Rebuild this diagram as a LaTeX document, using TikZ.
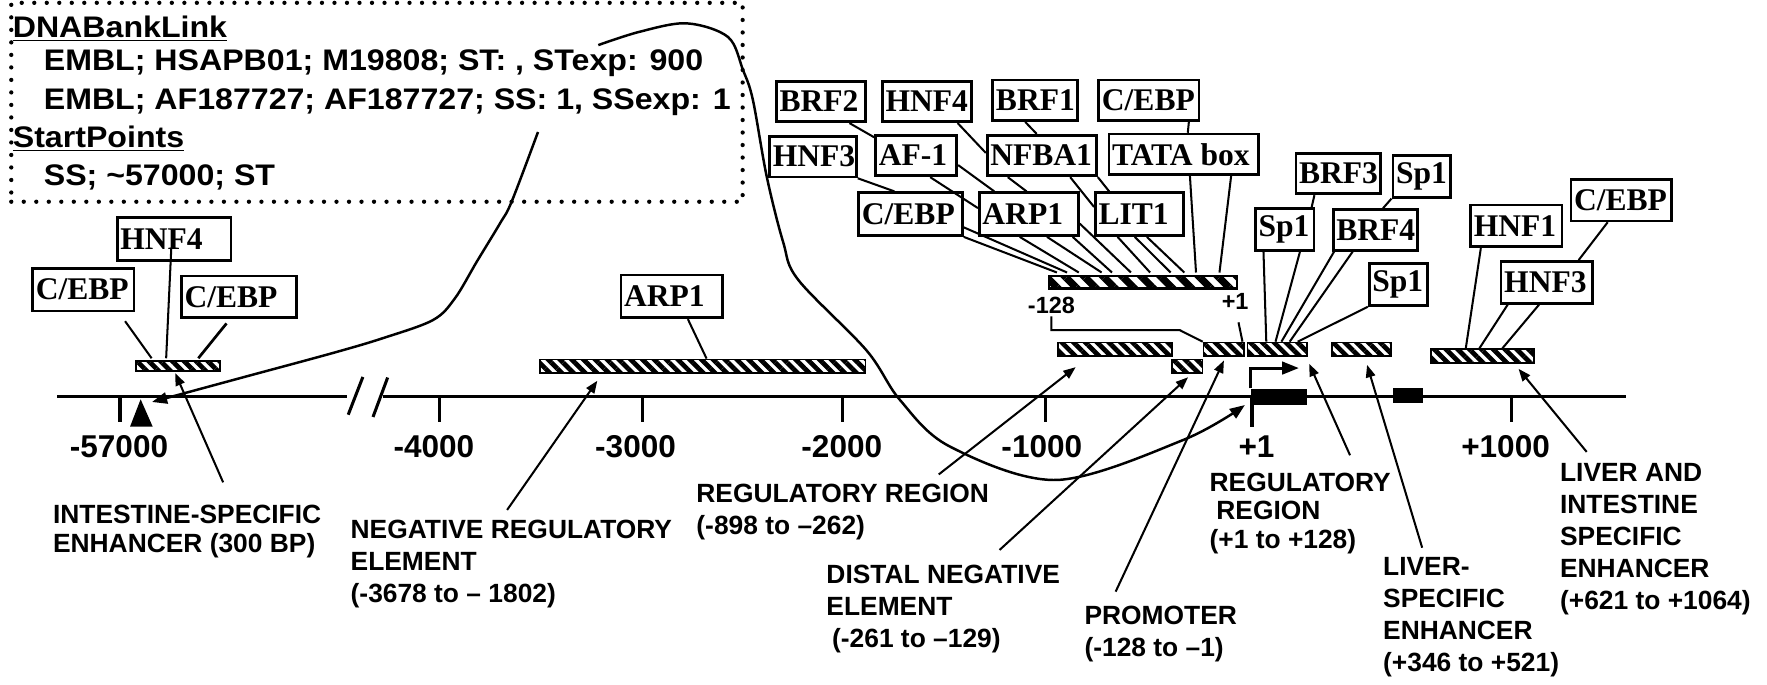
\documentclass[tikz,border=0pt]{standalone}
\usepackage{fontspec}
\setmainfont{Liberation Sans}
\newfontfamily\serifb{Liberation Serif}
\newfontfamily\boxfont{Liberation Sans Bold}[FakeStretch=1.08]
\usetikzlibrary{arrows.meta,patterns.meta,calc}
\newcommand\tfnode[6]{\node[tf, minimum height=#5*0.5pt] (#1) at (#2,#3) {\makebox[\dimexpr#4pt/2\relax][l]{\hspace{1.4pt}#6}};}
\begin{document}
\begin{tikzpicture}[x=0.5pt,y=-0.5pt,
  tf/.style={draw, line width=1.2pt, inner sep=0pt, font=\serifb\bfseries\fontsize{14}{15}\selectfont},
  hbar/.style={draw, line width=0.8pt, inner sep=0pt, pattern={Lines[angle=-45,distance=3.7pt,line width=2.1pt]}},
  pbarst/.style={draw, line width=0.9pt, inner sep=0pt, pattern={Lines[angle=-45,distance=6pt,line width=3.2pt]}},
  exon/.style={fill=black, inner sep=0pt},
  dotbox/.style={draw, line width=1.9pt, dash pattern=on 0pt off 5.55pt, line cap=round, inner sep=0pt},
  boxtxt/.style={font=\boxfont\fontsize{13.2}{16}\selectfont, inner sep=0pt, anchor=north west},
  ticklbl/.style={font=\bfseries\fontsize{14}{16}\selectfont, inner sep=0pt},
  smalllbl/.style={font=\bfseries\fontsize{10.4}{12}\selectfont, inner sep=0pt},
  region/.style={font=\bfseries\fontsize{11.7}{14.2}\selectfont, inner sep=0pt, anchor=north west, align=left},
  regiontight/.style={region, font=\bfseries\fontsize{11.7}{12.8}\selectfont},
  axisline/.style={line width=1.35pt},
  tickmark/.style={line width=1.35pt},
  conn/.style={line width=0.9pt},
  arr/.style={line width=0.9pt, -{Triangle[length=5.5pt,width=4.2pt]}},
  curv/.style={line width=1.1pt, -{Triangle[length=6.7pt,width=5pt]}},
  tssarrow/.style={line width=1.3pt, -{Triangle[length=7.4pt,width=5.5pt]}}
]
\useasboundingbox (0,0) rectangle (1568,607);

% ---------- info box ----------
\node[dotbox, minimum width=649*0.5pt, minimum height=176.5*0.5pt] (info) at (334.5,90.75) {};
\node[boxtxt] (dbl) at (11,13.3) {\underline{DNABankLink}};
\node[boxtxt] (emblA) at (38.5,44) {EMBL; HSAPB01; M19808; ST: , STexp: 900};
\node[boxtxt] (emblB) at (38.5,78) {EMBL; AF187727; AF187727; SS: 1, SSexp: 1};
\node[boxtxt] (spts) at (11,111) {\underline{StartPoints}};
\node[boxtxt] (ssln) at (38.5,146) {SS; \textasciitilde57000; ST};

% ---------- axis ----------
\coordinate (axL) at (50.6,352);
\coordinate (brkL) at (308,352);
\coordinate (brkR) at (340,352);
\coordinate (axR) at (1443,352);
\draw[axisline] (axL) -- (brkL);
\draw[axisline] (brkR) -- (axR);
\draw[axisline] (309,368) -- (322,334.5);
\draw[axisline] (331,370) -- (344,335);
\foreach \tx in {106.5,390.4,570.5,748,928,1341} \draw[tickmark] (\tx,352) -- (\tx,374.5);
\draw[tickmark] (1111,352) -- (1111,379);
\fill (124.8,354.3) -- (115.4,378.6) -- (135.5,378.6) -- cycle;

\node[ticklbl] (t57) at (105.6,396.5) {-57000};
\node[ticklbl] (t4k) at (385,396.5) {-4000};
\node[ticklbl] (t3k) at (564,396.5) {-3000};
\node[ticklbl] (t2k) at (747,396.5) {-2000};
\node[ticklbl] (t1k) at (924.5,396.5) {-1000};
\node[ticklbl] (tp1) at (1115,396.5) {+1};
\node[ticklbl] (tp1k) at (1336,396.5) {+1000};

% ---------- bars ----------
\node[hbar, minimum width=74*0.5pt, minimum height=9*0.5pt] (ibar) at (158,324.5) {};
\node[hbar, minimum width=289*0.5pt, minimum height=12*0.5pt] (arpbar) at (623.5,325) {};
\node[hbar, minimum width=101*0.5pt, minimum height=12*0.5pt] (regbar) at (989.5,310) {};
\node[hbar, minimum width=27*0.5pt, minimum height=12*0.5pt] (distbar) at (1053.5,325) {};
\node[hbar, minimum width=36*0.5pt, minimum height=12*0.5pt] (probar) at (1086,310) {};
\node[hbar, minimum width=53*0.5pt, minimum height=12*0.5pt] (reg1bar) at (1133.5,310) {};
\node[hbar, minimum width=52*0.5pt, minimum height=12*0.5pt] (livbar) at (1208,310) {};
\node[hbar, minimum width=91*0.5pt, minimum height=12*0.5pt] (libar) at (1315.5,316) {};
\node[pbarst, minimum width=167*0.5pt, minimum height=11*0.5pt] (pbar) at (1014.5,250.5) {};

\node[exon, minimum width=50*0.5pt, minimum height=14*0.5pt] (exOne) at (1135,352) {};
\node[exon, minimum width=27*0.5pt, minimum height=14*0.5pt] (exTwo) at (1249.5,351) {};
\draw[tssarrow] (exOne.north west) -- ++(0,-18) -- ++(43,0);

\node[smalllbl] (m128) at (933,271) {-128};
\node[smalllbl] (p1) at (1096,267.4) {+1};
\draw[conn] ([yshift=-1pt]m128.south) |- (1047,293) -- (probar.north west);
\coordinate (p1foot) at (1099,286);
\draw[conn] (p1foot) -- ($(probar.north west)!0.94!(probar.north east)$);

% ---------- factor boxes ----------
\tfnode{hnf4L}{154.5}{212}{101}{38}{HNF4}
\tfnode{cebpLa}{74}{257}{90}{38}{C/EBP}
\tfnode{cebpLb}{212}{263.5}{102}{37}{C/EBP}
\tfnode{arpB}{596}{263}{90}{38}{ARP1}

\tfnode{brf2}{728.5}{90}{79}{36}{BRF2}
\tfnode{hnf4M}{822.5}{90}{79}{36}{HNF4}
\tfnode{brf1}{918.5}{89}{75}{36}{BRF1}
\tfnode{cebpT}{1019.5}{89}{89}{36}{C/EBP}
\tfnode{hnf3M}{721.5}{139}{77}{36}{HNF3}
\tfnode{af1}{813}{138}{72}{36}{AF-1}
\tfnode{nfba1}{924.5}{138}{97}{36}{NFBA1}
\tfnode{tata}{1050.5}{137}{133}{36}{TATA box}
\tfnode{cebpM}{808}{190}{92}{38}{C/EBP}
\tfnode{arpM}{913}{190}{88}{38}{ARP1}
\tfnode{lit1}{1011}{190}{78}{38}{LIT1}

\tfnode{brf3}{1187.5}{154}{75}{36}{BRF3}
\tfnode{sp1T}{1261.5}{156.5}{51}{37}{Sp1}
\tfnode{sp1L}{1140}{203.5}{52}{37}{Sp1}
\tfnode{brf4}{1220.5}{204}{75}{36}{BRF4}
\tfnode{sp1B}{1241}{252.5}{52}{37}{Sp1}
\tfnode{hnf1}{1345.5}{200.5}{81}{37}{HNF1}
\tfnode{cebpR}{1438.5}{177.5}{89}{37}{C/EBP}
\tfnode{hnf3R}{1372.5}{250.5}{81}{37}{HNF3}

% ---------- factor connectors ----------
\coordinate (cLone) at (111,285);
\draw[conn] (cLone) -- ($(ibar.north west)!0.2!(ibar.north east)$);
\coordinate (hFourIn) at (152,220);
\draw[conn] (hFourIn) -- ($(ibar.north west)!0.365!(ibar.north east)$);
\coordinate (cLtwo) at (201,287);
\draw[conn, line width=1.2pt] (cLtwo) -- ($(ibar.north west)!0.73!(ibar.north east)$);
\draw[conn] ($(arpB.south west)!0.656!(arpB.south east)$) -- ($(arpbar.north west)!0.512!(arpbar.north east)$);

\draw[conn] ($(brf2.south west)!0.81!(brf2.south east)$) -- ($(af1.north west)!0.08!(af1.south west)$);
\draw[conn] ($(hnf4M.south west)!0.835!(hnf4M.south east)$) -- ($(nfba1.north west)!0.44!(nfba1.south west)$);
\draw[conn] ($(brf1.south west)!0.387!(brf1.south east)$) -- ($(nfba1.north west)!0.454!(nfba1.north east)$);
\draw[conn] ($(cebpT.south west)!0.888!(cebpT.south east)$) -- ($(tata.north west)!0.526!(tata.north east)$);
\draw[conn] (hnf3M.south east) -- ($(cebpM.north west)!0.348!(cebpM.north east)$);
\draw[conn] ($(af1.south west)!0.667!(af1.south east)$) -- ($(arpM.north west)!0.368!(arpM.south west)$);
\draw[conn] ($(af1.north east)!0.72!(af1.south east)$) -- ($(arpM.north west)!0.16!(arpM.north east)$);
\draw[conn] ($(nfba1.south west)!0.196!(nfba1.south east)$) -- ($(arpM.north west)!0.477!(arpM.north east)$);
\draw[conn] ($(nfba1.south west)!0.753!(nfba1.south east)$) -- ($(lit1.north west)!0.342!(lit1.south west)$);
\draw[conn] (nfba1.south east) -- ($(lit1.north west)!0.167!(lit1.north east)$);

\draw[conn] ($(cebpM.north east)!0.79!(cebpM.south east)$) -- ($(pbar.north west)!0.11!(pbar.north east)$);
\draw[conn] (cebpM.south east) -- ($(pbar.north west)!0.058!(pbar.north east)$);
\draw[conn] ($(arpM.south west)!0.41!(arpM.south east)$) -- ($(pbar.north west)!0.17!(pbar.north east)$);
\draw[conn] ($(arpM.south west)!0.678!(arpM.south east)$) -- ($(pbar.north west)!0.287!(pbar.north east)$);
\draw[conn] ($(arpM.south west)!0.93!(arpM.south east)$) -- ($(pbar.north west)!0.34!(pbar.north east)$);
\draw[conn] ($(arpM.north east)!0.71!(arpM.south east)$) -- ($(pbar.north west)!0.437!(pbar.north east)$);
\draw[conn] ($(lit1.south west)!0.26!(lit1.south east)$) -- ($(pbar.north west)!0.535!(pbar.north east)$);
\draw[conn] ($(lit1.south west)!0.45!(lit1.south east)$) -- ($(pbar.north west)!0.64!(pbar.north east)$);
\draw[conn] ($(lit1.south west)!0.583!(lit1.south east)$) -- ($(pbar.north west)!0.71!(pbar.north east)$);
\draw[conn] ($(tata.south west)!0.54!(tata.south east)$) -- ($(pbar.north west)!0.77!(pbar.north east)$);
\draw[conn] ($(tata.south west)!0.81!(tata.south east)$) -- ($(pbar.north west)!0.89!(pbar.north east)$);

\draw[conn] ($(brf3.south west)!0.227!(brf3.south east)$) -- ($(sp1L.north west)!0.94!(sp1L.north east)$);
\draw[conn] (sp1T.south west) -- ($(brf4.north west)!0.587!(brf4.north east)$);
\draw[conn] ($(sp1L.south west)!0.154!(sp1L.south east)$) -- ($(reg1bar.north west)!0.32!(reg1bar.north east)$);
\draw[conn] ($(sp1L.south west)!0.75!(sp1L.south east)$) -- ($(reg1bar.north west)!0.47!(reg1bar.north east)$);
\draw[conn] ($(brf4.south west)!0.027!(brf4.south east)$) -- ($(reg1bar.north west)!0.566!(reg1bar.north east)$);
\draw[conn] ($(brf4.south west)!0.24!(brf4.south east)$) -- ($(reg1bar.north west)!0.70!(reg1bar.north east)$);
\draw[conn] (sp1B.south west) -- ($(reg1bar.north west)!0.83!(reg1bar.north east)$);
\draw[conn] ($(hnf1.south west)!0.123!(hnf1.south east)$) -- ($(libar.north west)!0.34!(libar.north east)$);
\draw[conn] ($(hnf3R.south west)!0.086!(hnf3R.south east)$) -- ($(libar.north west)!0.47!(libar.north east)$);
\draw[conn] ($(hnf3R.south west)!0.42!(hnf3R.south east)$) -- ($(libar.north west)!0.69!(libar.north east)$);
\draw[conn] ($(cebpR.south west)!0.37!(cebpR.south east)$) -- ($(hnf3R.north west)!0.84!(hnf3R.north east)$);

% ---------- region labels ----------
\node[regiontight] (lblInt) at (46.7,448) {INTESTINE-SPECIFIC\\ENHANCER (300 BP)};
\node[region] (lblNeg) at (310.8,461) {NEGATIVE REGULATORY\\ELEMENT\\(-3678 to – 1802)};
\node[region] (lblReg) at (617.6,429) {REGULATORY REGION\\(-898 to –262)};
\node[region] (lblDist) at (733,501) {DISTAL NEGATIVE\\ELEMENT\\\hspace*{2.5pt}(-261 to –129)};
\node[region] (lblPro) at (962,537) {PROMOTER\\(-128 to –1)};
\node[regiontight] (lblRegOne) at (1073,419) {REGULATORY\\\hspace*{3pt}REGION\\(+1 to +128)};
\node[region] (lblLiv) at (1227,494) {LIVER-\\SPECIFIC\\ENHANCER\\(+346 to +521)};
\node[region] (lblLi) at (1384,411) {LIVER AND\\INTESTINE\\SPECIFIC\\ENHANCER\\(+621 to +1064)};

% ---------- region arrows ----------
\coordinate (aIntS) at (198,428);
\draw[arr] (aIntS) -- ($(ibar.south west)!0.468!(ibar.south east)$);
\coordinate (aNegS) at (450,452.5);
\draw[arr, shorten >=3.7pt] (aNegS) -- ($(arpbar.south west)!0.193!(arpbar.south east)$);
\coordinate (aRegS) at (833,421);
\draw[arr, shorten >=7.3pt] (aRegS) -- ($(regbar.south west)!0.271!(regbar.south east)$);
\coordinate (aDistS) at (887,488);
\draw[arr, shorten >=2.2pt] (aDistS) -- ($(distbar.south west)!0.64!(distbar.south east)$);
\coordinate (aProS) at (990,525);
\draw[arr, shorten >=1.7pt] (aProS) -- ($(probar.south west)!0.54!(probar.south east)$);
\coordinate (aRegOneS) at (1198,404);
\draw[arr, shorten >=3.3pt] (aRegOneS) -- ($(reg1bar.south west)!0.968!(reg1bar.south east)$);
\coordinate (aLivS) at (1262,486);
\draw[arr, shorten >=3.65pt] (aLivS) -- ($(livbar.south west)!0.556!(livbar.south east)$);
\coordinate (aLiS) at (1408,401);
\draw[arr, shorten >=2.9pt] (aLiS) -- ($(libar.south west)!0.806!(libar.south east)$);

% ---------- long curves from the info box ----------
\coordinate (ssSrc) at (477.4,117.1);
\coordinate (tip57) at (134.9,356.7);
\draw[curv] plot[smooth, tension=0.55] coordinates {(ssSrc) (454,179) (443.7,198.2) (423.2,232) (403.7,264.7) (384.2,284) (340,300) (295.5,313.2) (215,335) (tip57)};
\coordinate (stSrc) at (530.9,40);
\coordinate (tipOne) at (1104.7,359.4);
\draw[curv] plot[smooth, tension=0.55] coordinates {(stSrc) (567.9,28.1) (609.3,20.7) (646,32.8) (659.3,62.1) (668.1,88.7) (680.4,156.8) (695,215) (708.4,248.4) (769,311) (798.6,354.9) (843,396.3) (937.6,425.9) (1050,390.4) (tipOne)};
\end{tikzpicture}
\end{document}
